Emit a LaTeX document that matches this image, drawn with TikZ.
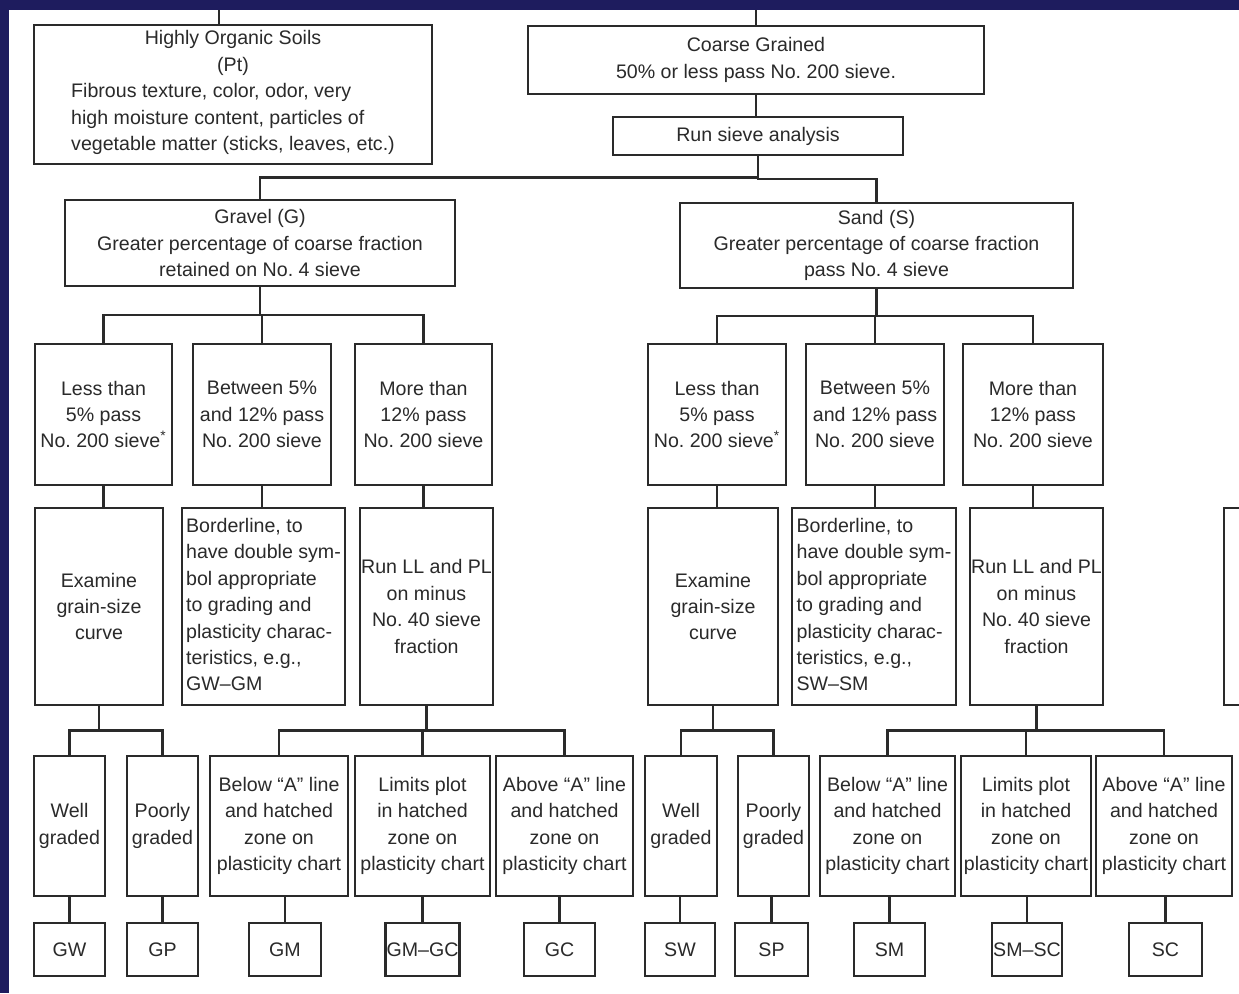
\documentclass[tikz,border=0pt]{standalone}
\usepackage{fontspec}
\setmainfont{Liberation Sans}
\usetikzlibrary{calc}
\definecolor{uscsnavy}{HTML}{1E1C5E}
\definecolor{uscsink}{HTML}{2A2A2A}
\tikzset{
  bx/.style={draw=uscsink, line width=1.1pt, align=center, inner sep=0.5pt, text=uscsink},
  edges/.style n args={4}{minimum width={(#2-#1)*0.5pt}, minimum height={(#4-#3)*0.5pt}, at={({(#1+#2)/2},{(#3+#4)/2})}},
  wire/.style={draw=uscsink, line width=1.1pt},
}

\begin{document}
\begin{tikzpicture}[x=0.5pt, y=-0.5pt, font=\fontsize{9.8}{13.2}\selectfont]
    \fill[white] (0,0) rectangle (1239,993);
    \useasboundingbox (0,0) rectangle (1239,993);

    \node[bx, edges={34}{432}{25}{164}] (organic) {Highly Organic Soils\\(Pt)\\\begin{tabular}[t]{@{}l@{}}Fibrous texture, color, odor, very\\high moisture content, particles of\\vegetable matter (sticks, leaves, etc.)\end{tabular}};
    \node[bx, edges={528}{984}{26}{94}] (coarse) {Coarse Grained\\50\% or less pass No.\ 200 sieve.};
    \node[bx, edges={613}{903}{117}{155}] (sieve) {Run sieve analysis};
    \node[bx, edges={65}{455}{200}{286}] (gravel) {Gravel (G)\\Greater percentage of coarse fraction\\retained on No.\ 4 sieve};
    \node[bx, edges={680}{1073}{203}{288}] (sand) {Sand (S)\\Greater percentage of coarse fraction\\pass No.\ 4 sieve};

    \foreach \n/\l/\r/\txt in {
      g1/35/172/{Less than\\5\% pass\\No.\ 200 sieve\textsuperscript{*}},
      g2/193/331/{Between 5\%\\and 12\% pass\\No.\ 200 sieve},
      g3/355/492/{More than\\12\% pass\\No.\ 200 sieve},
      s1/648/786/{Less than\\5\% pass\\No.\ 200 sieve\textsuperscript{*}},
      s2/806/944/{Between 5\%\\and 12\% pass\\No.\ 200 sieve},
      s3/963/1103/{More than\\12\% pass\\No.\ 200 sieve}}
      \node[bx, edges={\l}{\r}{344}{485}] (\n) {\txt};

    \foreach \n/\l/\r/\txt in {
      g4/35/163/{Examine\\grain-size\\curve},
      g5/182/345/{\begin{tabular}{@{}l@{}}Borderline, to\\have double sym-\\bol appropriate\\to grading and\\plasticity charac-\\teristics, e.g.,\\GW--GM\end{tabular}},
      g6/360/493/{Run LL and PL\\on minus\\No.\ 40 sieve\\fraction},
      s4/648/778/{Examine\\grain-size\\curve},
      s5/792/956/{\begin{tabular}{@{}l@{}}Borderline, to\\have double sym-\\bol appropriate\\to grading and\\plasticity charac-\\teristics, e.g.,\\SW--SM\end{tabular}},
      s6/970/1103/{Run LL and PL\\on minus\\No.\ 40 sieve\\fraction},
      edgebox/1224/1290/{}}
      \node[bx, edges={\l}{\r}{508}{705}] (\n) {\txt};

    \foreach \n/\l/\r/\txt in {
      gwell/34/105/{Well\\graded},
      gpoor/127/198/{Poorly\\graded},
      gbelow/210/348/{Below ``A'' line\\and hatched\\zone on\\plasticity chart},
      glimits/355/490/{Limits plot\\in hatched\\zone on\\plasticity chart},
      gabove/496/633/{Above ``A'' line\\and hatched\\zone on\\plasticity chart},
      swell/645/717/{Well\\graded},
      spoor/738/809/{Poorly\\graded},
      sbelow/820/955/{Below ``A'' line\\and hatched\\zone on\\plasticity chart},
      slimits/961/1091/{Limits plot\\in hatched\\zone on\\plasticity chart},
      sabove/1096/1232/{Above ``A'' line\\and hatched\\zone on\\plasticity chart}}
      \node[bx, edges={\l}{\r}{756}{896}] (\n) {\txt};

    \foreach \n/\l/\r/\txt in {
      gw/34/105/GW, gp/127/198/GP, gm/249/321/GM, gmgc/387/458/{GM--GC}, gc/524/595/GC,
      sw/645/715/SW, sp/735/808/SP, sm/854/925/SM, smsc/992/1062/{SM--SC}, sc/1129/1202/SC}
      \node[bx, edges={\l}{\r}{923}{976}] (\n) {\txt};

    \coordinate (orgfeed) at (219,10);
    \coordinate (coarsefeed) at (756,10);
    \draw[wire] (orgfeed) -- (orgfeed |- organic.north);
    \draw[wire] (coarsefeed) -- (coarse.north);

    \foreach \p/\c in {coarse/sieve, g1/g4, g2/g5, g3/g6, s1/s4, s2/s5, s3/s6}
      \draw[wire] (\p.south) -- (\p.south |- \c.north);
    \foreach \p/\c in {sieve/gravel, sieve/sand, gravel/g1, gravel/g2, gravel/g3, sand/s1, sand/s2, sand/s3,
      g4/gwell, g4/gpoor, g6/gbelow, g6/glimits, g6/gabove, s4/swell, s4/spoor, s6/sbelow, s6/slimits, s6/sabove}
      \draw[wire] (\p.south) |- ($(\p.south)!.5!(\c.north)$) -| (\c.north);
    \foreach \p/\c in {gwell/gw, gpoor/gp, gbelow/gm, glimits/gmgc, gabove/gc, swell/sw, spoor/sp, sbelow/sm, slimits/smsc, sabove/sc}
      \draw[wire] (\c.north) -- (\c.north |- \p.south);

    \fill[uscsnavy] (0,0) rectangle (1239,10);
    \fill[uscsnavy] (0,0) rectangle (9,993);
\end{tikzpicture}
\end{document}
